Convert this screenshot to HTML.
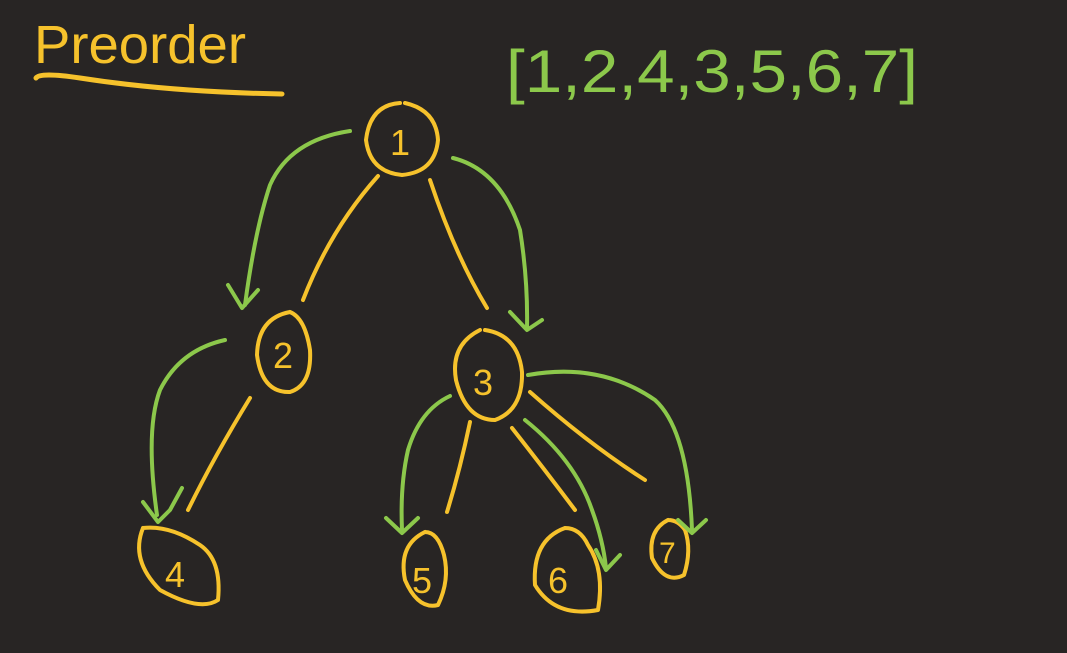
<!DOCTYPE html>
<html><head><meta charset="utf-8"><style>
html,body{margin:0;padding:0;background:#282524;}
svg{display:block}
text{font-family:"Liberation Sans",sans-serif}
</style></head><body>
<svg width="1067" height="653" viewBox="0 0 1067 653" xmlns="http://www.w3.org/2000/svg">
<rect width="1067" height="653" fill="#282524"/>
<g fill="none" stroke-linecap="round" stroke-linejoin="round">
<text x="34" y="63" font-size="54" fill="#f6c22c" stroke="none" textLength="212" lengthAdjust="spacingAndGlyphs">Preorder</text>
<path d="M36 78 Q40 72 80 78 Q170 92 282 94" stroke="#f6c22c" stroke-width="5"/>
<text x="506" y="92" font-size="60" fill="#8cc84b" stroke="none" textLength="412" lengthAdjust="spacingAndGlyphs">[1,2,4,3,5,6,7]</text>

<g stroke="#f6c22c" stroke-width="4">
<path d="M400 103 Q370 105 366 140 Q370 172 402 175 Q435 172 438 140 Q436 110 405 103"/>
<path d="M290 312 Q258 318 257 355 Q262 393 290 392 Q312 385 310 350 Q305 318 290 312"/>
<path d="M480 330 Q450 345 456 380 Q466 420 495 420 Q523 410 522 372 Q518 335 485 330"/>
<path d="M143 528 Q130 560 160 590 Q200 612 218 600 Q222 560 200 545 Q170 525 143 528"/>
<path d="M425 532 Q398 545 405 580 Q418 610 438 605 Q450 580 444 555 Q438 532 425 532"/>
<path d="M565 528 Q532 540 535 585 Q555 618 598 610 Q605 570 588 545 Q580 528 565 528"/>
<path d="M668 520 Q648 530 652 558 Q665 585 684 575 Q692 550 685 530 Q678 520 668 520"/>
<path d="M378 176 Q330 230 303 300"/>
<path d="M430 180 Q455 255 487 308"/>
<path d="M250 398 Q215 455 188 510"/>
<path d="M470 422 Q460 470 447 512"/>
<path d="M512 428 Q545 470 575 510"/>
<path d="M530 392 Q590 445 645 480"/>
</g>
<g fill="#f6c22c" stroke="none" font-size="36">
<text x="390" y="155">1</text>
<text x="273" y="368">2</text>
<text x="473" y="395">3</text>
<text x="165" y="587">4</text>
<text x="412" y="593">5</text>
<text x="548" y="593">6</text>
<text x="659" y="563" font-size="30">7</text>
</g>

<g stroke="#8cc84b" stroke-width="4">
<path d="M350 131 Q290 140 270 185 Q255 230 245 305"/>
<path d="M228 285 L242 308 L258 290"/>
<path d="M453 158 Q500 170 520 230 Q528 280 527 328"/>
<path d="M510 312 L527 330 L542 320"/>
<path d="M225 340 Q180 350 160 390 Q145 430 157 515"/>
<path d="M143 502 L158 522 L170 510 L182 488"/>
<path d="M450 396 Q420 410 408 450 Q400 485 402 530"/>
<path d="M386 518 L402 533 L418 518"/>
<path d="M525 420 Q575 460 592 510 Q603 540 606 568"/>
<path d="M596 550 L606 570 L620 555"/>
<path d="M528 375 Q600 362 655 400 Q688 430 692 530"/>
<path d="M678 520 L692 533 L706 520"/>
</g>
</g>
</svg>
</body></html>
